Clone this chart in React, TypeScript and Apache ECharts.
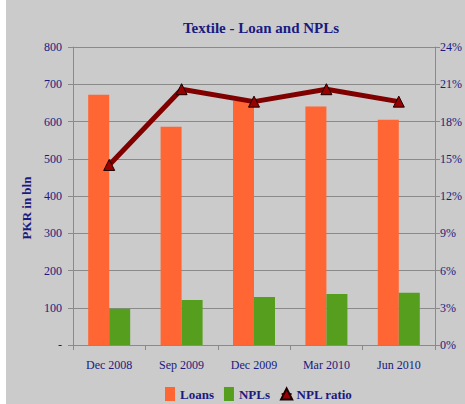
import React, { useEffect, useRef } from "react";
import * as echarts from "echarts";

const categories = ["Dec 2008", "Sep 2009", "Dec 2009", "Mar 2010", "Jun 2010"];
const loans = [672, 586, 656, 640, 605];
const npls = [97, 121, 129, 137, 140];
const nplRatio = [14.5, 20.6, 19.6, 20.6, 19.6];
const leftTicks = [0, 100, 200, 300, 400, 500, 600, 700, 800];
const rightTicks = [0, 3, 6, 9, 12, 15, 18, 21, 24];

const FONT = "'Liberation Serif', 'Times New Roman', serif";
const NAVY = "#1a1a80";
const GRID = "#8a8a8a";

export default function App() {
  const ref = useRef<HTMLDivElement>(null);
  useEffect(() => {
    if (!ref.current) return;
    const chart = echarts.init(ref.current, null, { renderer: "svg" });
    chart.setOption({
      animation: false,
      backgroundColor: "#cbcbcb",
      textStyle: { fontFamily: FONT },
      title: {
        text: "Textile - Loan and NPLs",
        left: 256,
        textAlign: "center",
        top: 15,
        textStyle: { fontFamily: FONT, fontSize: 15, fontWeight: "bold", color: NAVY },
      },
      graphic: [
        { type: "rect", left: 0, top: 0, shape: { width: 6, height: 404 }, style: { fill: "#ffffff" } },
        {
          type: "text",
          x: 26,
          y: 208,
          rotation: Math.PI / 2,
          style: {
            text: "PKR in bln",
            fontFamily: FONT,
            fontSize: 13,
            fontWeight: "bold",
            fill: NAVY,
            align: "center",
            verticalAlign: "middle",
          },
        },
      ],
      legend: {
        top: 387,
        left: 165,
        padding: 0,
        itemGap: 10,
        itemWidth: 10,
        itemHeight: 14,
        textStyle: { fontFamily: FONT, fontSize: 13, fontWeight: "bold", color: NAVY },
        data: [
          { name: "Loans", icon: "rect" },
          { name: "NPLs", icon: "rect" },
          { name: "NPL ratio" },
        ],
      },
      grid: { left: 73, right: 26, top: 47, bottom: 59, containLabel: false },
      xAxis: {
        type: "category",
        data: categories,
        boundaryGap: true,
        axisLine: { lineStyle: { color: GRID, width: 1 } },
        axisTick: { show: true, alignWithLabel: false, length: 5, lineStyle: { color: GRID } },
        axisLabel: { color: NAVY, fontFamily: FONT, fontSize: 12, margin: 14 },
      },
      yAxis: [
        {
          type: "value",
          min: leftTicks[0],
          max: leftTicks[leftTicks.length - 1],
          interval: 100,
          axisLine: { show: true, lineStyle: { color: GRID } },
          axisTick: { show: true, length: 5, lineStyle: { color: GRID } },
          splitLine: { show: true, lineStyle: { color: GRID, width: 1 } },
          axisLabel: {
            color: NAVY,
            fontFamily: FONT,
            fontSize: 12,
            margin: 11,
            formatter: (v: number) => (v === 0 ? "-" : String(v)),
          },
        },
        {
          type: "value",
          min: rightTicks[0],
          max: rightTicks[rightTicks.length - 1],
          interval: 3,
          position: "right",
          axisLine: { show: true, lineStyle: { color: GRID } },
          axisTick: { show: true, length: 5, lineStyle: { color: GRID } },
          splitLine: { show: false },
          axisLabel: {
            color: NAVY,
            fontFamily: FONT,
            fontSize: 12,
            margin: 5,
            formatter: (v: number) => v + "%",
          },
        },
      ],
      series: [
        {
          name: "Loans",
          type: "bar",
          data: loans,
          barWidth: 21,
          barGap: "0%",
          itemStyle: { color: "#ff6633" },
        },
        {
          name: "NPLs",
          type: "bar",
          data: npls,
          barWidth: 21,
          barGap: "0%",
          itemStyle: { color: "#559e1e" },
        },
        {
          name: "NPL ratio",
          type: "line",
          yAxisIndex: 1,
          data: nplRatio,
          symbol: "triangle",
          symbolSize: 11,
          lineStyle: { color: "#800000", width: 5 },
          itemStyle: { color: "#990000", borderColor: "#1a0000", borderWidth: 1 },
          z: 5,
        },
      ],
    });
    return () => chart.dispose();
  }, []);
  return (
    <div
      ref={ref}
      style={{ position: "absolute", left: 0, top: 0, width: 465, height: 404 }}
    />
  );
}
